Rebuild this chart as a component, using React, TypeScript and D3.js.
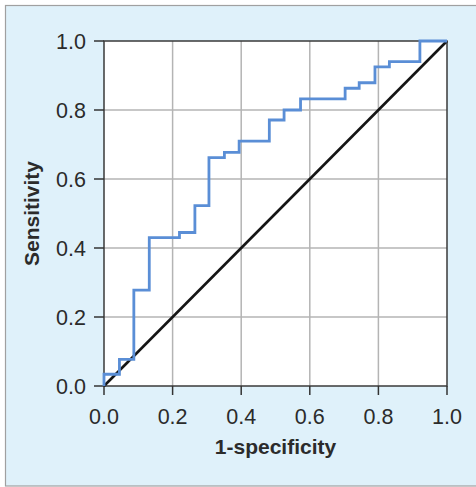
import React from 'react';
import * as d3 from 'd3';

// ROC curve corner points (1-specificity, sensitivity)
const fpr = [0, 0.045, 0.087, 0.132, 0.22, 0.265, 0.306, 0.351, 0.394, 0.482, 0.525, 0.573, 0.703, 0.744, 0.79, 0.832, 0.921, 1.0];
const tpr = [0, 0.034, 0.077, 0.278, 0.43, 0.445, 0.523, 0.662, 0.677, 0.71, 0.771, 0.8, 0.832, 0.863, 0.879, 0.925, 0.94, 1.0];
const tickValues = [0, 0.2, 0.4, 0.6, 0.8, 1.0];
const xTitle = '1-specificity';
const yTitle = 'Sensitivity';

const width = 476;
const height = 487;
const margin = { left: 104, right: 29, top: 41, bottom: 101 };
const font = '"Liberation Sans", Arial, sans-serif';

const App = () => {
    const x = d3.scaleLinear().domain([0, 1]).range([margin.left, width - margin.right]);
    const y = d3.scaleLinear().domain([0, 1]).range([height - margin.bottom, margin.top]);

    const points: [number, number][] = fpr.map((f, i) => [f, tpr[i]]);

    // vertical first, then horizontal
    const rocLine = d3.line<[number, number]>()
        .x(d => x(d[0]))
        .y(d => y(d[1]))
        .curve(d3.curveStepBefore);

    const diagonal = d3.line<number>()
        .x(d => x(d))
        .y(d => y(d));

    const x0 = x(0), x1 = x(1), y0 = y(0), y1 = y(1);

    return (
        <svg width={width} height={height} style={{ position: 'absolute', left: 0, top: 0 }}>
            {/* light blue panel */}
            <rect x={5.5} y={5.5} width={490} height={480.5} fill="#dff1fa" stroke="#a0a0a0" strokeWidth={1.2} />
            <rect x={x0} y={y1} width={x1 - x0} height={y0 - y1} fill="#fff" />

            {/* grid */}
            {tickValues.slice(1, -1).map(t => (
                <g key={'g' + t}>
                    <line x1={x(t)} x2={x(t)} y1={y1} y2={y0} stroke="#b4b4b4" strokeWidth={1.5} />
                    <line x1={x0} x2={x1} y1={y(t)} y2={y(t)} stroke="#b4b4b4" strokeWidth={1.5} />
                </g>
            ))}

            {/* frame */}
            <rect x={x0} y={y1} width={x1 - x0} height={y0 - y1} fill="none" stroke="#3a3a3a" strokeWidth={1.5} />

            {/* ticks + labels */}
            {tickValues.map(t => (
                <g key={'x' + t}>
                    <line x1={x(t)} x2={x(t)} y1={y0} y2={y0 + 9} stroke="#333" strokeWidth={1.5} />
                    <text x={x(t)} y={424} textAnchor="middle" fontFamily={font} fontSize={21.5} fill="#2b2b2b">
                        {d3.format('.1f')(t)}
                    </text>
                    <line x1={x0 - 10} x2={x0} y1={y(t)} y2={y(t)} stroke="#333" strokeWidth={1.5} />
                    <text x={86} y={y(t) + 7.5} textAnchor="end" fontFamily={font} fontSize={21.5} fill="#2b2b2b">
                        {d3.format('.1f')(t)}
                    </text>
                </g>
            ))}

            {/* reference diagonal */}
            <path d={diagonal([0, 1]) || ''} fill="none" stroke="#151515" strokeWidth={2.6} />

            {/* ROC curve */}
            <path d={rocLine(points) || ''} fill="none" stroke="#5a8ed6" strokeWidth={2.8} />

            <text x={(x0 + x1) / 2} y={454} textAnchor="middle" fontFamily={font} fontSize={21} fontWeight="bold" fill="#2b2b2b">
                {xTitle}
            </text>
            <text transform={`translate(39, ${(y0 + y1) / 2}) rotate(-90)`} textAnchor="middle" fontFamily={font} fontSize={21} fontWeight="bold" fill="#2b2b2b">
                {yTitle}
            </text>
        </svg>
    );
};

export default App;
